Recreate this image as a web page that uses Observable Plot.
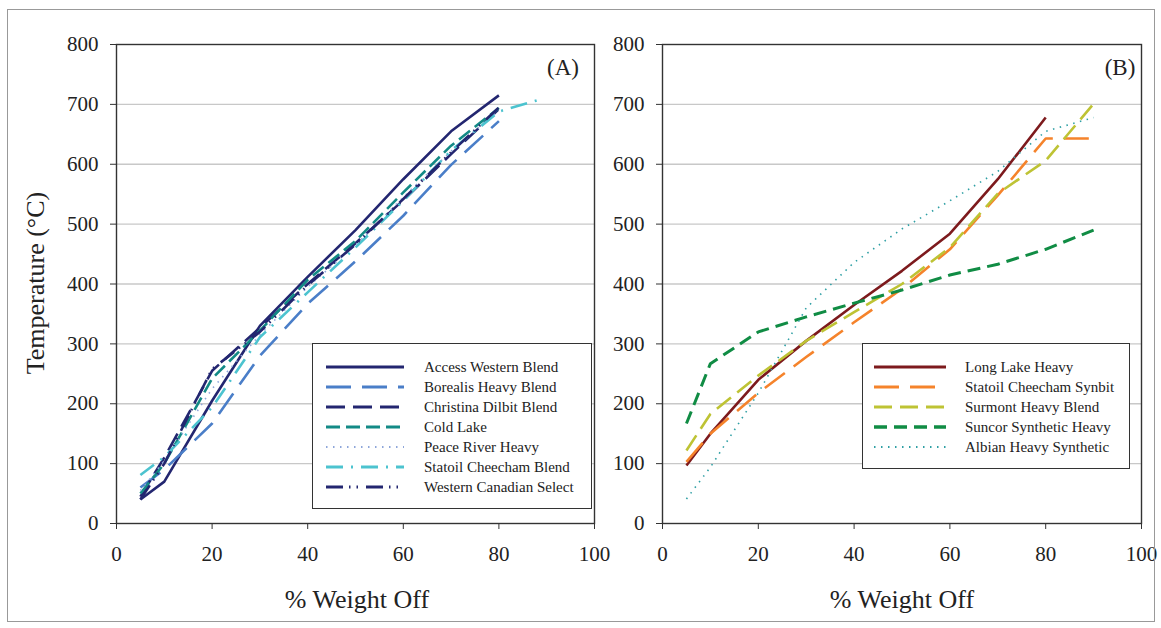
<!DOCTYPE html>
<html>
<head>
<meta charset="utf-8">
<script src="https://cdn.jsdelivr.net/npm/d3@7"></script>
<script src="https://cdn.jsdelivr.net/npm/@observablehq/plot@0.6"></script>
<style>
  html, body { margin: 0; padding: 0; background: white; }
  #wrap { position: relative; width: 1161px; height: 628px; overflow: hidden; font-family: 'Liberation Serif', 'Times New Roman', serif; color: #222; }
  .legend { position: absolute; border: 1.5px solid #333; background: white; box-sizing: border-box; z-index: 5; }
  .legrow { position: absolute; left: 0; height: 20px; font-size: 15px; line-height: 20px; white-space: nowrap; font-family: 'Liberation Serif', 'Times New Roman', serif; }
  .legrow svg { position: absolute; top: 0; }
  .legrow span { position: absolute; }
  .title { position: absolute; font-size: 26px; white-space: nowrap; font-family: 'Liberation Serif', 'Times New Roman', serif; z-index: 5; }
  #frame { position: absolute; left: 7px; top: 9px; width: 1146px; height: 611px; border: 1px solid #999; pointer-events: none; z-index: 10; }
  svg text { font-family: 'Liberation Serif', 'Times New Roman', serif; }
</style>
</head>
<body>
<div id="wrap"></div>
<script>
// ---------- Data ----------
const xTicks = [0, 20, 40, 60, 80, 100];
const yTicks = [0, 100, 200, 300, 400, 500, 600, 700, 800];

// Panel A (% weight off vs temperature)
const xA = [5, 10, 20, 30, 40, 50, 60, 70, 80];
const accessWesternBlend   = [40, 70, 205, 330, 412, 490, 575, 655, 715];
const borealisHeavyBlend   = [60, 90, 167, 280, 367, 438, 514, 599, 672];
const christinaDilbitBlend = [45, 110, 255, 327, 400, 468, 540, 617, 692];
const coldLake             = [50, 100, 242, 322, 407, 472, 553, 631, 694];
const peaceRiverHeavy      = [55, 105, 225, 315, 395, 465, 545, 622, 690];
const xStatoilBlend = [5, 10, 20, 30, 40, 50, 60, 70, 80, 89];
const statoilCheechamBlend = [81, 111, 194, 311, 386, 461, 539, 623, 688, 709];
const westernCanadianSelect = [40, 100, 258, 320, 398, 466, 542, 620, 695];

// Panel B
const xB = [5, 10, 20, 30, 40, 50, 60, 70, 80, 90];
const longLakeHeavy          = [97, 150, 240, 305, 365, 422, 484, 575, 678];
const statoilCheechamSynbit  = [103, 150, 218, 278, 336, 392, 458, 548, 643, 643];
const surmontHeavyBlend      = [122, 183, 247, 305, 353, 400, 461, 551, 606, 701];
const suncorSyntheticHeavy   = [167, 267, 320, 345, 368, 390, 415, 433, 458, 490];
const albianHeavySynthetic   = [41, 94, 218, 360, 436, 492, 539, 588, 655, 678];

// ---------- Series definitions ----------
const seriesA = [
  {name: "Access Western Blend", xs: xA, ys: accessWesternBlend, stroke: "#232670", width: 2.6, dash: null},
  {name: "Borealis Heavy Blend", xs: xA, ys: borealisHeavyBlend, stroke: "#4a7ec8", width: 2.6, dash: "25,11"},
  {name: "Christina Dilbit Blend", xs: xA, ys: christinaDilbitBlend, stroke: "#232670", width: 2.6, dash: "19,8"},
  {name: "Cold Lake", xs: xA, ys: coldLake, stroke: "#138a86", width: 2.6, dash: "14,6"},
  {name: "Peace River Heavy", xs: xA, ys: peaceRiverHeavy, stroke: "#8ea6da", width: 1.6, dash: "1.5,5.5"},
  {name: "Statoil Cheecham Blend", xs: xStatoilBlend, ys: statoilCheechamBlend, stroke: "#4cc3cf", width: 2.6, dash: "17,8,2,8"},
  {name: "Western Canadian Select", xs: xA, ys: westernCanadianSelect, stroke: "#232670", width: 2.6, dash: "17,6,1.5,6,1.5,8"}
];
const seriesB = [
  {name: "Long Lake Heavy", xs: xB, ys: longLakeHeavy, stroke: "#7d1a1d", width: 2.6, dash: null},
  {name: "Statoil Cheecham Synbit", xs: xB, ys: statoilCheechamSynbit, stroke: "#f5832b", width: 2.6, dash: "25,11"},
  {name: "Surmont Heavy Blend", xs: xB, ys: surmontHeavyBlend, stroke: "#bec334", width: 2.6, dash: "18,8"},
  {name: "Suncor Synthetic Heavy", xs: xB, ys: suncorSyntheticHeavy, stroke: "#108c44", width: 3, dash: "13,7"},
  {name: "Albian Heavy Synthetic", xs: xB, ys: albianHeavySynthetic, stroke: "#2e9fa4", width: 1.6, dash: "1.5,5.5"}
];

const rows = (xs, ys) => ys.map((y, i) => ({x: xs[i], y}));
const SERIF = "'Liberation Serif', 'Times New Roman', serif";

function panel(series, opts) {
  const marks = [
    Plot.ruleY(yTicks.filter(d => d > 0 && d < 800), {stroke: "#c8c8c8", strokeWidth: 1.3}),
    Plot.axisY({ticks: yTicks, tickSize: 6, tickPadding: 12, fontSize: 21, fontFamily: SERIF, label: null, stroke: "#333", fill: "#222"}),
    Plot.axisX({ticks: xTicks, tickSize: 6, tickPadding: 17, fontSize: 21, fontFamily: SERIF, label: null, stroke: "#333", fill: "#222"}),
  ];
  for (const s of series) {
    marks.push(Plot.line(rows(s.xs, s.ys), {
      x: "x", y: "y", stroke: s.stroke, strokeWidth: s.width,
      strokeDasharray: s.dash || undefined, strokeLinecap: "butt", strokeLinejoin: "round", curve: "linear"
    }));
  }
  marks.push(Plot.frame({stroke: "#333", strokeWidth: 1.4}));
  return Plot.plot({
    width: opts.width, height: 628,
    marginLeft: opts.ml, marginRight: opts.mr, marginTop: 44, marginBottom: 105,
    x: {domain: [0, 100]},
    y: {domain: [0, 800]},
    style: {fontFamily: SERIF, fontSize: "21px", color: "#222", background: "transparent", overflow: "visible"},
    marks
  });
}

const wrap = document.getElementById("wrap");

const pA = panel(seriesA, {width: 600, ml: 116, mr: 6});
pA.style.position = "absolute"; pA.style.left = "0px"; pA.style.top = "0px"; pA.style.overflow = "visible";
wrap.appendChild(pA);

const pB = panel(seriesB, {width: 561, ml: 62, mr: 20});
pB.style.position = "absolute"; pB.style.left = "600px"; pB.style.top = "0px"; pB.style.overflow = "visible";
wrap.appendChild(pB);

// ---------- Titles ----------
function addText(txt, css) {
  const d = document.createElement("div");
  d.className = "title";
  d.textContent = txt;
  d.style.fontFamily = SERIF;
  Object.assign(d.style, css);
  wrap.appendChild(d);
  return d;
}
addText("% Weight Off", {left: "357px", top: "600px", transform: "translate(-50%,-50%)"});
addText("% Weight Off", {left: "902px", top: "600px", transform: "translate(-50%,-50%)"});
addText("Temperature (\u00B0C)", {left: "36px", top: "283px", transform: "translate(-50%,-50%) rotate(-90deg)"});
addText("(A)", {left: "563px", top: "68px", transform: "translate(-50%,-50%)", fontSize: "23px"});
addText("(B)", {left: "1120px", top: "68px", transform: "translate(-50%,-50%)", fontSize: "23px"});

// ---------- Legends ----------
function legend(series, box) {
  const L = document.createElement("div");
  L.className = "legend";
  Object.assign(L.style, {left: box.x + "px", top: box.y + "px", width: box.w + "px", height: box.h + "px"});
  series.forEach((s, i) => {
    const r = document.createElement("div");
    r.className = "legrow";
    r.style.top = (box.firstY - box.y - 10 + i * 20) + "px";
    r.style.width = box.w + "px";
    const ns = "http://www.w3.org/2000/svg";
    const svg = document.createElementNS(ns, "svg");
    svg.setAttribute("width", box.lineW + 4);
    svg.setAttribute("height", 20);
    svg.style.left = (box.lineX - box.x - 2) + "px";
    const ln = document.createElementNS(ns, "line");
    ln.setAttribute("x1", 2); ln.setAttribute("x2", box.lineW + 2);
    ln.setAttribute("y1", 10); ln.setAttribute("y2", 10);
    ln.setAttribute("stroke", s.stroke);
    ln.setAttribute("stroke-width", s.width + 0.4);
    if (s.dash) ln.setAttribute("stroke-dasharray", s.dash);
    svg.appendChild(ln);
    r.appendChild(svg);
    const sp = document.createElement("span");
    sp.textContent = s.name;
    sp.style.left = (box.textX - box.x) + "px";
    r.appendChild(sp);
    L.appendChild(r);
  });
  wrap.appendChild(L);
}
legend(seriesA, {x: 312, y: 343, w: 280, h: 166, firstY: 366, lineX: 325, lineW: 78, textX: 423});
legend(seriesB, {x: 862, y: 343, w: 268, h: 126, firstY: 366, lineX: 873, lineW: 72, textX: 964});

// outer frame
const fr = document.createElement("div");
fr.id = "frame";
wrap.appendChild(fr);
</script>
</body>
</html>
